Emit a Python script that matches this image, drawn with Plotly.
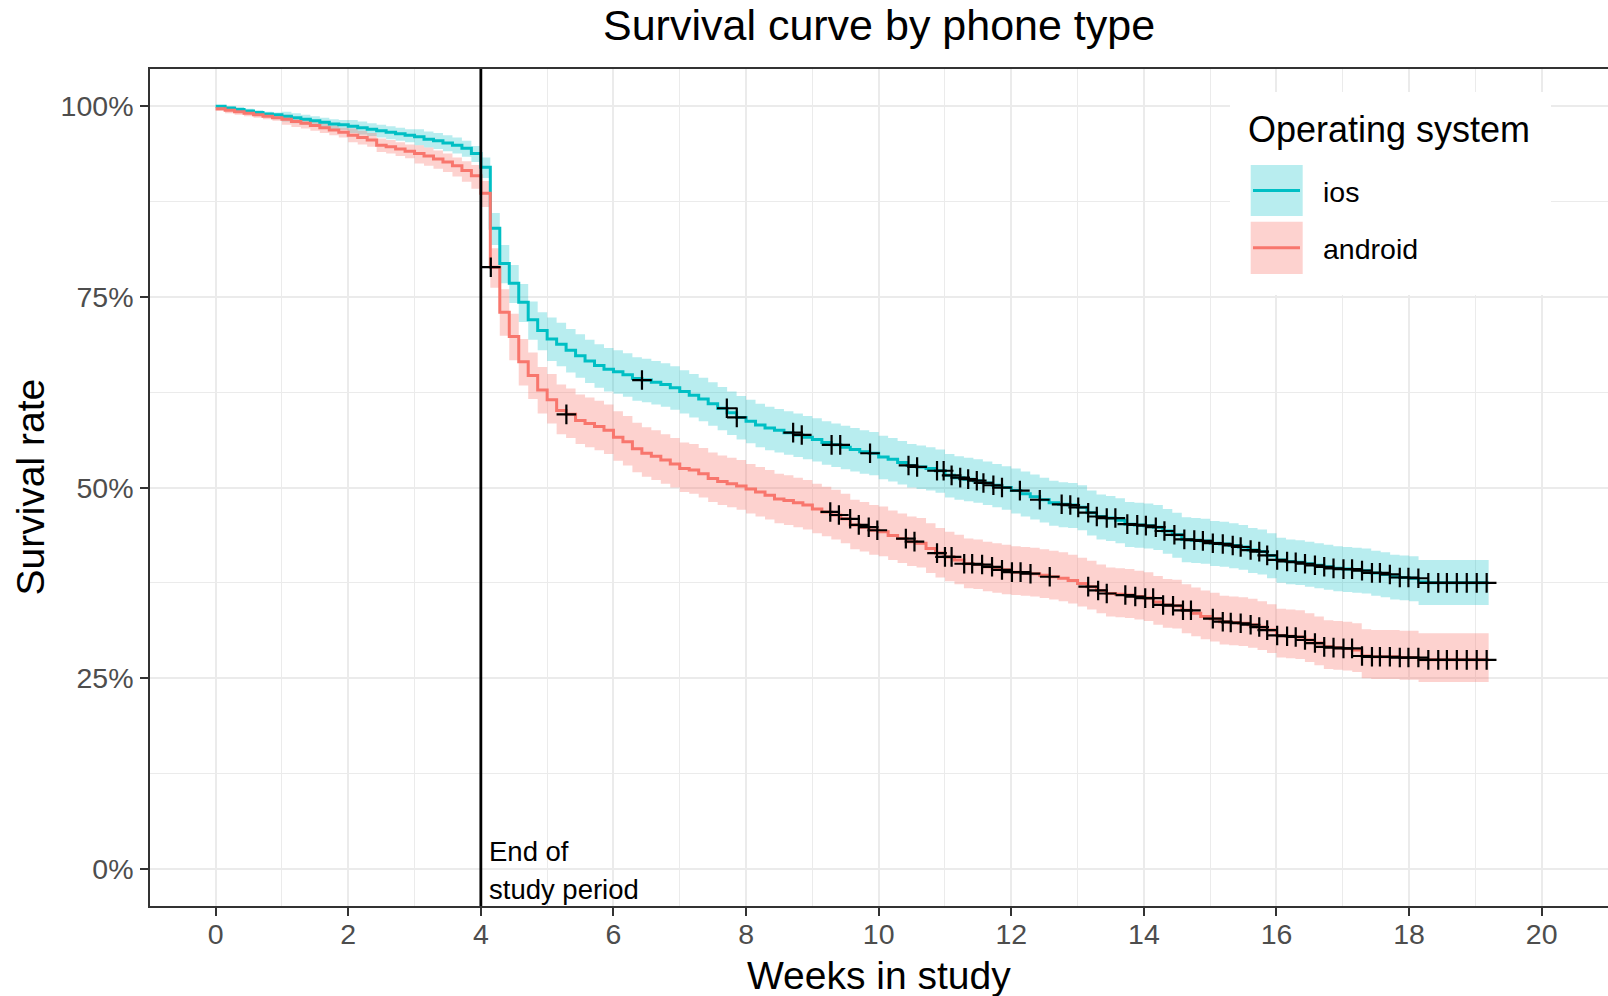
import numpy as np
import plotly.graph_objects as go

# ---- Kaplan-Meier estimates (one step per study day) ----
event_day = list(range(129))
last_week = 19.2

ios_surv = [
    1.000, 0.998, 0.996, 0.994, 0.992, 0.990, 0.989, 0.987, 0.985, 0.983,
    0.981, 0.979, 0.977, 0.976, 0.974, 0.972, 0.970, 0.968, 0.966, 0.964,
    0.962, 0.960, 0.957, 0.955, 0.952, 0.949, 0.945, 0.938, 0.920, 0.840,
    0.794, 0.768, 0.743, 0.720, 0.706, 0.695, 0.688, 0.680, 0.673, 0.666,
    0.660, 0.655, 0.652, 0.648, 0.643, 0.641, 0.638, 0.635, 0.631, 0.626,
    0.621, 0.616, 0.610, 0.604, 0.598, 0.592, 0.587, 0.582, 0.578, 0.575,
    0.572, 0.569, 0.566, 0.563, 0.559, 0.556, 0.553, 0.550, 0.547, 0.545,
    0.540, 0.537, 0.533, 0.529, 0.527, 0.525, 0.522, 0.516, 0.513, 0.511,
    0.509, 0.506, 0.503, 0.500, 0.496, 0.492, 0.488, 0.484, 0.480, 0.478,
    0.477, 0.474, 0.467, 0.462, 0.460, 0.457, 0.452, 0.451, 0.450, 0.448,
    0.443, 0.438, 0.432, 0.431, 0.430, 0.427, 0.426, 0.424, 0.422, 0.418,
    0.416, 0.411, 0.405, 0.403, 0.402, 0.400, 0.398, 0.396, 0.394, 0.393,
    0.392, 0.391, 0.388, 0.386, 0.383, 0.382, 0.381, 0.376, 0.375,
]
ios_upper = [
    1.000, 1.000, 0.999, 0.997, 0.995, 0.993, 0.992, 0.993, 0.991, 0.989,
    0.987, 0.985, 0.983, 0.982, 0.982, 0.980, 0.978, 0.976, 0.974, 0.972,
    0.970, 0.970, 0.967, 0.965, 0.962, 0.959, 0.955, 0.948, 0.933, 0.860,
    0.818, 0.792, 0.767, 0.744, 0.730, 0.723, 0.716, 0.708, 0.701, 0.694,
    0.688, 0.683, 0.680, 0.676, 0.671, 0.669, 0.666, 0.663, 0.659, 0.654,
    0.649, 0.644, 0.638, 0.632, 0.626, 0.620, 0.615, 0.610, 0.606, 0.603,
    0.600, 0.597, 0.594, 0.591, 0.587, 0.584, 0.581, 0.578, 0.575, 0.573,
    0.568, 0.565, 0.561, 0.557, 0.555, 0.553, 0.550, 0.544, 0.541, 0.539,
    0.537, 0.534, 0.531, 0.528, 0.525, 0.521, 0.517, 0.513, 0.509, 0.507,
    0.506, 0.503, 0.496, 0.491, 0.489, 0.486, 0.481, 0.480, 0.479, 0.477,
    0.472, 0.467, 0.461, 0.460, 0.459, 0.456, 0.455, 0.453, 0.451, 0.447,
    0.445, 0.440, 0.434, 0.432, 0.431, 0.429, 0.427, 0.425, 0.423, 0.422,
    0.421, 0.420, 0.417, 0.415, 0.412, 0.411, 0.410, 0.405, 0.405,
]
ios_lower = [
    1.000, 0.994, 0.992, 0.990, 0.988, 0.986, 0.985, 0.980, 0.978, 0.976,
    0.974, 0.972, 0.970, 0.969, 0.965, 0.963, 0.961, 0.959, 0.957, 0.955,
    0.953, 0.949, 0.946, 0.944, 0.941, 0.938, 0.934, 0.927, 0.906, 0.818,
    0.768, 0.742, 0.717, 0.694, 0.680, 0.666, 0.659, 0.651, 0.644, 0.637,
    0.631, 0.626, 0.623, 0.619, 0.614, 0.612, 0.609, 0.606, 0.602, 0.597,
    0.592, 0.587, 0.581, 0.575, 0.569, 0.563, 0.558, 0.553, 0.549, 0.546,
    0.543, 0.540, 0.537, 0.534, 0.530, 0.527, 0.524, 0.521, 0.518, 0.516,
    0.511, 0.508, 0.504, 0.500, 0.498, 0.496, 0.493, 0.487, 0.484, 0.482,
    0.480, 0.477, 0.474, 0.471, 0.466, 0.462, 0.458, 0.454, 0.450, 0.448,
    0.447, 0.444, 0.437, 0.432, 0.430, 0.427, 0.422, 0.421, 0.420, 0.418,
    0.413, 0.408, 0.402, 0.401, 0.400, 0.397, 0.396, 0.394, 0.392, 0.388,
    0.386, 0.381, 0.375, 0.373, 0.372, 0.370, 0.368, 0.366, 0.364, 0.363,
    0.362, 0.361, 0.358, 0.356, 0.353, 0.352, 0.351, 0.346, 0.346,
]

android_surv = [
    0.997, 0.995, 0.993, 0.991, 0.989, 0.987, 0.985, 0.983, 0.980, 0.978,
    0.975, 0.972, 0.969, 0.966, 0.962, 0.959, 0.956, 0.949, 0.947, 0.944,
    0.941, 0.938, 0.935, 0.931, 0.927, 0.922, 0.916, 0.909, 0.886, 0.789,
    0.730, 0.698, 0.665, 0.647, 0.628, 0.615, 0.601, 0.596, 0.588, 0.584,
    0.580, 0.575, 0.566, 0.560, 0.551, 0.545, 0.541, 0.536, 0.531, 0.525,
    0.523, 0.518, 0.512, 0.508, 0.505, 0.502, 0.498, 0.494, 0.490, 0.485,
    0.483, 0.480, 0.477, 0.472, 0.468, 0.464, 0.459, 0.451, 0.448, 0.444,
    0.442, 0.437, 0.433, 0.429, 0.427, 0.420, 0.414, 0.409, 0.405, 0.400,
    0.399, 0.396, 0.394, 0.392, 0.389, 0.388, 0.387, 0.385, 0.383, 0.381,
    0.378, 0.374, 0.370, 0.365, 0.361, 0.360, 0.359, 0.357, 0.355, 0.350,
    0.346, 0.345, 0.339, 0.335, 0.331, 0.328, 0.324, 0.323, 0.322, 0.320,
    0.317, 0.313, 0.306, 0.305, 0.304, 0.300, 0.296, 0.291, 0.290, 0.289,
    0.287, 0.279, 0.278, 0.278, 0.278, 0.277, 0.277, 0.274, 0.274,
]
android_upper = [
    0.999, 0.998, 0.996, 0.994, 0.992, 0.990, 0.988, 0.989, 0.986, 0.984,
    0.981, 0.978, 0.975, 0.972, 0.971, 0.968, 0.965, 0.958, 0.956, 0.953,
    0.950, 0.949, 0.946, 0.942, 0.938, 0.933, 0.928, 0.923, 0.902, 0.814,
    0.760, 0.728, 0.695, 0.677, 0.658, 0.649, 0.635, 0.630, 0.622, 0.618,
    0.614, 0.609, 0.600, 0.594, 0.585, 0.579, 0.575, 0.570, 0.565, 0.559,
    0.557, 0.552, 0.546, 0.542, 0.539, 0.536, 0.531, 0.527, 0.523, 0.518,
    0.516, 0.513, 0.510, 0.505, 0.501, 0.497, 0.492, 0.484, 0.481, 0.477,
    0.475, 0.470, 0.466, 0.462, 0.460, 0.453, 0.447, 0.442, 0.438, 0.433,
    0.432, 0.429, 0.427, 0.425, 0.423, 0.422, 0.421, 0.419, 0.417, 0.415,
    0.412, 0.408, 0.404, 0.399, 0.395, 0.394, 0.393, 0.391, 0.389, 0.384,
    0.380, 0.379, 0.373, 0.369, 0.365, 0.362, 0.358, 0.357, 0.356, 0.354,
    0.351, 0.347, 0.341, 0.340, 0.339, 0.335, 0.331, 0.326, 0.325, 0.324,
    0.322, 0.314, 0.313, 0.313, 0.313, 0.312, 0.312, 0.309, 0.309,
]
android_lower = [
    0.994, 0.991, 0.989, 0.987, 0.985, 0.983, 0.981, 0.976, 0.973, 0.971,
    0.968, 0.965, 0.962, 0.959, 0.953, 0.950, 0.947, 0.940, 0.938, 0.935,
    0.932, 0.925, 0.922, 0.918, 0.914, 0.908, 0.901, 0.892, 0.868, 0.762,
    0.699, 0.667, 0.634, 0.616, 0.597, 0.584, 0.570, 0.565, 0.557, 0.553,
    0.549, 0.544, 0.535, 0.529, 0.520, 0.514, 0.510, 0.505, 0.500, 0.494,
    0.492, 0.487, 0.481, 0.477, 0.474, 0.471, 0.466, 0.462, 0.458, 0.453,
    0.451, 0.448, 0.445, 0.440, 0.436, 0.432, 0.427, 0.419, 0.416, 0.412,
    0.410, 0.405, 0.401, 0.397, 0.395, 0.388, 0.382, 0.377, 0.373, 0.368,
    0.367, 0.364, 0.362, 0.360, 0.359, 0.358, 0.357, 0.355, 0.353, 0.351,
    0.348, 0.344, 0.340, 0.335, 0.331, 0.330, 0.329, 0.327, 0.325, 0.320,
    0.316, 0.315, 0.309, 0.305, 0.301, 0.298, 0.294, 0.293, 0.292, 0.290,
    0.287, 0.283, 0.277, 0.276, 0.275, 0.271, 0.267, 0.262, 0.261, 0.260,
    0.258, 0.250, 0.249, 0.249, 0.249, 0.248, 0.248, 0.245, 0.245,
]

# censoring times (weeks)
ios_censor_weeks = [
    6.43, 7.71, 7.86, 8.71, 8.84, 9.29, 9.42, 9.87, 10.45, 10.58,
    10.88, 10.98, 11.10, 11.23, 11.35, 11.48, 11.58, 11.73, 11.86, 12.13,
    12.43, 12.76, 12.89, 13.01, 13.16, 13.29, 13.44, 13.57, 13.75, 13.90,
    14.03, 14.18, 14.31, 14.46, 14.61, 14.76, 14.89, 15.04, 15.19, 15.34,
    15.46, 15.61, 15.74, 15.86, 16.01, 16.16, 16.29, 16.43, 16.58, 16.72,
    16.86, 17.01, 17.14, 17.29, 17.44, 17.56, 17.71, 17.86, 17.99, 18.14,
    18.29, 18.44, 18.57, 18.72, 18.87, 19.02, 19.17,
]
android_censor_weeks = [
    4.15, 5.29, 9.27, 9.40, 9.57, 9.70, 9.85, 9.98, 10.41, 10.54,
    10.88, 11.00, 11.10, 11.29, 11.41, 11.56, 11.71, 11.86, 12.01, 12.14,
    12.29, 12.58, 13.16, 13.31, 13.44, 13.72, 13.87, 14.02, 14.14, 14.29,
    14.44, 14.59, 14.71, 15.04, 15.19, 15.31, 15.46, 15.61, 15.74, 15.86,
    16.01, 16.16, 16.29, 16.43, 16.58, 16.72, 16.86, 17.01, 17.14, 17.29,
    17.44, 17.56, 17.71, 17.86, 17.99, 18.14, 18.29, 18.44, 18.57, 18.72,
    18.87, 19.02, 19.17,
]

study_end_week = 4
groups = ["ios", "android"]
line_colors = {"ios": "#00BFC4", "android": "#F8766D"}
band_colors = {"ios": "rgba(0,191,196,0.28)", "android": "rgba(248,118,109,0.33)"}

series = {
    "ios": (ios_surv, ios_lower, ios_upper, ios_censor_weeks),
    "android": (android_surv, android_lower, android_upper, android_censor_weeks),
}

W, H = 1608, 996
PL, PR, PT, PB = 150, 1608, 69, 906      # plot area in pixels
FONT = "Liberation Sans, Arial, Helvetica, sans-serif"


def px(x):
    return (x - PL) / (PR - PL)


def py(y):
    return (PB - y) / (PB - PT)


weeks = np.array(event_day) / 7.0
step_x = np.append(weeks, last_week)


def extend(v):
    return np.append(np.array(v), v[-1])


fig = go.Figure()

# confidence bands
for g in groups:
    s, lo, hi, _ = series[g]
    fig.add_trace(go.Scatter(x=step_x, y=extend(lo), mode="lines", line=dict(width=0, shape="hv"),
                             hoverinfo="skip", showlegend=False))
    fig.add_trace(go.Scatter(x=step_x, y=extend(hi), mode="lines", line=dict(width=0, shape="hv"),
                             fill="tonexty", fillcolor=band_colors[g], hoverinfo="skip", showlegend=False))

# survival curves
for g in groups:
    s, lo, hi, _ = series[g]
    fig.add_trace(go.Scatter(x=step_x, y=extend(s), mode="lines", name=g,
                             line=dict(color=line_colors[g], width=3, shape="hv"), showlegend=False))

# censoring marks placed on the step curve
for g in groups:
    s, lo, hi, cw = series[g]
    cw = np.array(cw)
    idx = np.searchsorted(weeks, cw, side="right") - 1
    fig.add_trace(go.Scatter(x=cw, y=np.array(s)[idx], mode="markers", showlegend=False,
                             marker=dict(symbol="cross-thin", size=14, color="black",
                                         line=dict(color="black", width=2.2))))

shapes = [
    dict(type="line", xref="x", yref="paper", x0=study_end_week, x1=study_end_week, y0=0, y1=1,
         line=dict(color="black", width=2.8), layer="above"),
    # legend box
    dict(type="rect", xref="paper", yref="paper", x0=px(1230), x1=px(1551), y0=py(295), y1=py(92),
         fillcolor="white", line=dict(width=0), layer="above"),
]
annotations = []
key_rows = [("ios", 165, 216), ("android", 221.7, 274)]
for g, top, bot in key_rows:
    shapes.append(dict(type="rect", xref="paper", yref="paper", x0=px(1250.7), x1=px(1302.7),
                       y0=py(bot), y1=py(top), fillcolor=band_colors[g], line=dict(width=0), layer="above"))
    mid = (top + bot) / 2
    shapes.append(dict(type="line", xref="paper", yref="paper", x0=px(1253), x1=px(1300),
                       y0=py(mid), y1=py(mid), line=dict(color=line_colors[g], width=3), layer="above"))
    annotations.append(dict(text=g, xref="paper", yref="paper", x=px(1321), y=py(mid + 1),
                            xanchor="left", yanchor="middle", showarrow=False,
                            font=dict(family=FONT, size=28.5, color="black")))

annotations += [
    dict(text="Operating system", xref="paper", yref="paper", x=px(1246), y=py(130),
         xanchor="left", yanchor="middle", showarrow=False, font=dict(family=FONT, size=36, color="black")),
    dict(text="Survival curve by phone type", xref="paper", yref="paper", x=0.5, y=py(25),
         xanchor="center", yanchor="middle", showarrow=False, font=dict(family=FONT, size=43, color="black")),
    dict(text="Weeks in study", xref="paper", yref="paper", x=0.5, y=py(975),
         xanchor="center", yanchor="middle", showarrow=False, font=dict(family=FONT, size=39, color="black")),
    dict(text="Survival rate", xref="paper", yref="paper", x=px(30), y=py(487.5), textangle=-90,
         xanchor="center", yanchor="middle", showarrow=False, font=dict(family=FONT, size=39, color="black")),
    dict(text="End of", xref="paper", yref="paper", x=px(487), y=py(851),
         xanchor="left", yanchor="middle", showarrow=False, font=dict(family=FONT, size=27.5, color="black")),
    dict(text="study period", xref="paper", yref="paper", x=px(487), y=py(889),
         xanchor="left", yanchor="middle", showarrow=False, font=dict(family=FONT, size=27.5, color="black")),
]

grid = "#EBEBEB"
axis_common = dict(
    showgrid=True, gridcolor=grid, gridwidth=2.4, zeroline=False,
    ticks="outside", ticklen=8, tickwidth=2, tickcolor="#333333",
    showline=True, linecolor="#333333", linewidth=1.6,
    tickfont=dict(family=FONT, size=28.5, color="#4D4D4D"),
)

fig.update_layout(
    width=W, height=H,
    margin=dict(l=PL, r=W - PR, t=PT, b=H - PB, pad=0),
    paper_bgcolor="white", plot_bgcolor="white",
    showlegend=False,
    shapes=shapes, annotations=annotations,
    xaxis=dict(range=[-0.99, 21.0], tickvals=list(range(0, 21, 2)), mirror=True,
               minor=dict(tickvals=list(range(1, 21, 2)), showgrid=True, gridcolor=grid, gridwidth=1.2, ticks=""),
               ticklabelstandoff=-6, **axis_common),
    yaxis=dict(range=[-0.0489, 1.049], tickvals=[0, 0.25, 0.5, 0.75, 1.0],
               ticktext=["0%", "25%", "50%", "75%", "100%"], mirror=False,
               minor=dict(tickvals=[0.125, 0.375, 0.625, 0.875], showgrid=True, gridcolor=grid, gridwidth=1.2, ticks=""),
               ticklabelstandoff=1, **axis_common),
)

fig.write_html("out.html")
